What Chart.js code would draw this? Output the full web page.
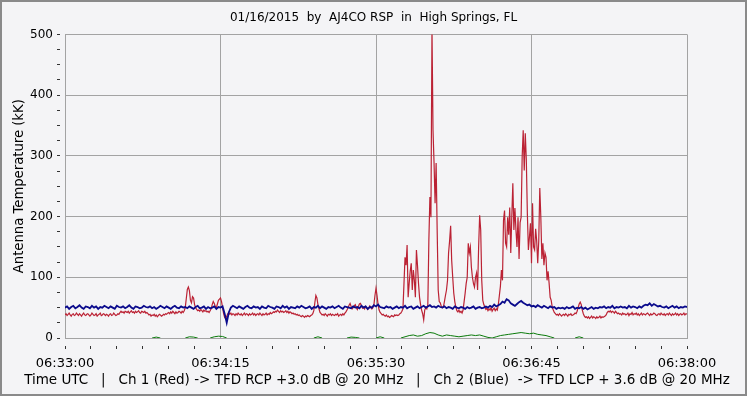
<!DOCTYPE html>
<html>
<head>
<meta charset="utf-8">
<script src="https://cdn.jsdelivr.net/npm/chart.js@4.4.1/dist/chart.umd.min.js"></script>
<style>
  html, body { margin: 0; padding: 0; background: #f4f4f6; }
  #wrap { width: 747px; height: 396px; }
</style>
</head>
<body>
<div id="wrap"><canvas id="grafico" width="747" height="396"></canvas></div>
<script>
// DADOS
const START = "06:33:00";
const RED_STEP = 0.5;   // segundos entre amostras
const BLUE_STEP = 1;
const GREEN_STEP = 2;
const N = null;

// Ch 1 (Red) - TFD RCP, kK
const red = [
  38,40,37,39,41,38,36,39,40,37,38,41,39,37,40,38,36,39,41,38,
  37,39,40,38,36,38,41,39,37,38,40,36,38,39,41,37,38,40,39,37,
  39,38,36,39,40,37,38,41,39,37,38,40,39,42,44,42,43,41,44,43,
  42,44,41,43,45,42,43,41,44,42,43,45,42,41,44,43,42,44,41,42,
  40,38,39,36,38,37,39,36,38,35,37,39,38,36,37,39,38,40,39,41,
  42,40,43,41,44,42,40,43,41,42,44,43,41,44,42,45,50,65,80,84,
  78,62,58,68,66,55,50,47,45,46,44,47,45,43,46,44,45,43,44,42,
  45,48,55,60,57,52,50,56,62,64,66,60,50,40,34,32,36,40,42,39,
  41,38,40,39,37,40,38,41,39,38,40,37,39,41,38,40,39,37,40,38,
  39,41,38,40,37,39,40,38,41,39,37,40,38,39,41,38,40,39,42,40,
  41,43,42,44,43,46,44,42,45,43,44,42,43,45,42,44,41,43,42,40,
  41,39,40,38,39,37,38,36,35,37,36,34,36,35,37,36,35,37,38,40,
  45,58,70,66,55,48,42,40,38,39,37,40,38,36,39,38,40,37,39,38,
  37,39,38,40,36,38,39,37,40,38,41,43,46,50,54,57,52,48,50,53,
  55,50,47,52,56,57,53,49,51,48,52,50,47,49,53,51,48,50,55,70,
  82,70,55,46,42,40,38,39,37,36,38,35,36,34,35,37,36,35,38,37,
  38,37,38,40,41,44,48,90,133,120,153,67,90,110,123,79,112,95,67,145,
  120,90,67,55,46,40,30,46,50,48,55,161,232,199,510,342,288,222,288,178,
  79,60,58,52,50,51,60,70,79,95,140,160,185,128,100,74,60,51,45,43,
  46,42,44,41,46,60,74,90,100,156,140,150,117,100,90,84,100,107,79,150,
  202,178,95,62,55,51,47,49,45,48,46,50,44,47,49,45,48,46,55,70,
  85,112,95,194,210,156,150,199,170,215,140,200,255,178,214,178,150,199,130,190,
  199,298,342,276,337,293,205,145,166,189,123,222,150,145,180,160,123,160,247,199,
  130,156,120,140,133,95,110,90,67,62,51,46,42,40,38,39,37,40,38,36,
  38,39,37,40,38,36,39,38,40,37,38,39,41,40,44,50,56,59,55,46,
  40,36,34,35,33,35,32,34,36,33,35,34,32,35,33,34,36,33,35,34,
  35,36,38,42,44,43,45,42,44,43,41,44,42,40,41,39,40,38,41,39,
  40,38,39,41,37,40,39,42,38,40,39,41,38,40,37,39,41,38,40,39,
  38,40,41,39,37,40,38,39,41,40,38,37,39,40,38,41,39,38,40,37,
  39,40,38,41,39,37,40,38,39,41,38,40,37,39,40,38,39,41,38,40,
  39
];

// Ch 2 (Blue) - TFD LCP, kK
const blue = [
  50,52,48,51,53,49,51,54,50,48,52,51,49,53,50,52,48,51,50,53,
  51,49,52,50,48,53,51,50,52,49,51,54,50,48,52,51,49,50,53,51,
  50,52,49,51,48,50,53,51,49,52,50,48,51,53,50,49,52,50,51,49,
  52,50,48,51,53,49,50,52,48,51,49,50,52,48,51,50,52,40,25,42,
  50,53,51,49,52,50,48,51,53,50,49,52,50,51,48,52,50,49,53,51,
  50,48,52,51,49,53,50,52,48,51,50,49,52,50,53,51,49,50,52,48,
  51,50,53,49,52,50,48,51,50,52,49,51,53,50,48,52,51,50,49,52,
  50,51,49,53,50,52,48,51,50,54,52,55,51,50,49,52,50,51,48,50,
  52,49,51,50,53,49,51,52,48,50,52,49,51,53,50,52,54,51,52,50,
  53,51,50,52,49,51,50,48,52,50,49,51,50,48,51,49,50,52,48,50,
  51,49,50,52,50,53,51,55,52,54,56,60,58,64,62,57,55,53,56,59,
  61,58,56,54,55,52,53,51,54,52,50,53,51,49,52,50,51,48,50,49,
  50,48,51,49,50,52,48,50,49,51,48,50,47,49,51,48,50,49,51,50,
  52,49,51,50,53,49,51,50,52,50,51,49,53,50,52,51,49,52,50,53,
  55,54,57,53,56,54,52,53,51,50,52,49,51,53,50,52,49,51,50,52,
  51
];

// verde (pequeno, só onde aparece acima do eixo)
const green = [
  N,N,N,N,N,N,N,N,N,N, N,N,N,N,N,N,N,N,N,N,
  N,0,1.5,0,N,N,N,N,N,0, 2,1.5,0,N,N,0,2,3,2.5,0,
  N,N,N,N,N,N,N,N,N,N, N,N,N,N,N,N,N,N,N,N,
  0,2,0,N,N,N,N,N,0,1.5, 1,0,N,N,N,0,2,0,N,N,
  N,0,2,4,5,3,4,7,9,8, 5,3,5,4,3,2,3,4,5,4,
  5,3,1,0,2,4,5,6,7,8, 9,8,7,8,6,5,4,2,0,N,
  N,N,N,0,2,0,N,N,N,N, N,N,N,N,N,N,N,N,N,N,
  N,N,N,N,N,N,N,N,N,N, N
];

const xMajor = 75;    // rótulos a cada 75 s
const xMinor = 12.5;
const yMajor = 100;
const yMinor = 25;

const titulo = "01/16/2015  by  AJ4CO RSP  in  High Springs, FL";
const rodape = "Time UTC   |   Ch 1 (Red) -> TFD RCP +3.0 dB @ 20 MHz   |   Ch 2 (Blue)  -> TFD LCP + 3.6 dB @ 20 MHz";
const tituloY = "Antenna Temperature (kK)";

function pontos(valores, passo) {
  return valores.map((v, i) => ({ x: i * passo, y: v }));
}

function horaLabel(seg) {
  const [h, m, s] = START.split(":").map(Number);
  let t = h * 3600 + m * 60 + s + Math.round(seg);
  const hh = String(Math.floor(t / 3600)).padStart(2, "0");
  const mm = String(Math.floor(t % 3600 / 60)).padStart(2, "0");
  const ss = String(t % 60).padStart(2, "0");
  return `${hh}:${mm}:${ss}`;
}

// fundo, moldura e linha de rodapé (o título do eixo x seria comprimido na largura da área)
const fundo = {
  id: "fundo",
  beforeDraw(chart) {
    const c = chart.ctx;
    c.save();
    c.fillStyle = "#f4f4f6";
    c.fillRect(0, 0, chart.width, chart.height);
    c.restore();
  },
  afterDraw(chart) {
    const c = chart.ctx;
    const area = chart.chartArea;
    c.save();
    c.fillStyle = "#000";
    c.font = "13.5px 'DejaVu Sans', sans-serif";
    c.textAlign = "center";
    c.textBaseline = "middle";
    c.fillText(rodape, (area.left + area.right) / 2 + 1, 380);
    c.strokeStyle = "#8a8a8a";
    c.lineWidth = 2;
    c.strokeRect(1, 1, chart.width - 2, chart.height - 2);
    c.restore();
  }
};

Chart.defaults.font.family = "'DejaVu Sans', sans-serif";
Chart.defaults.font.size = 12;
Chart.defaults.color = "#000";

const gridCor = "#a3a3a3";

new Chart(document.getElementById("grafico").getContext("2d"), {
  type: "line",
  data: {
    datasets: [
      { label: "Ch 2 (Blue)", data: pontos(blue, BLUE_STEP), borderColor: "#0a0a8c", borderWidth: 1.8, order: 0 },
      { label: "Ch 1 (Red)", data: pontos(red, RED_STEP), borderColor: "#bb2234", borderWidth: 1.2, order: 1 },
      { label: "Dif", data: pontos(green, GREEN_STEP), borderColor: "#0a7a0a", borderWidth: 1, order: 2, spanGaps: false }
    ]
  },
  options: {
    responsive: false,
    devicePixelRatio: 1,
    animation: false,
    layout: { padding: 0 },
    elements: { point: { radius: 0 }, line: { tension: 0 } },
    plugins: {
      legend: { display: false },
      tooltip: { enabled: false },
      title: {
        display: true, text: titulo, color: "#000",
        font: { size: 12, weight: "normal" },
        padding: { top: 11, bottom: 9 }
      }
    },
    scales: {
      x: {
        type: "linear", min: 0, max: 300,
        afterFit: s => { s.height = 58; },
        ticks: {
          stepSize: xMinor, autoSkip: false, maxRotation: 0, padding: 7,
          font: { size: 13 },
          callback: v => (v % xMajor === 0 ? horaLabel(v) : "")
        },
        grid: {
          color: c => (c.tick && c.tick.value % xMajor === 0 ? gridCor : "rgba(0,0,0,0)"),
          tickColor: "#333", tickLength: 11,
          tickBorderDash: [4, 100], tickBorderDashOffset: 97
        },
        border: { color: gridCor }
      },
      y: {
        min: 0, max: 500,
        afterFit: s => { s.width = 65; },
        ticks: {
          stepSize: yMinor, autoSkip: false, padding: 4,
          callback: v => (v % yMajor === 0 ? v : "")
        },
        grid: {
          color: c => (c.tick && c.tick.value % yMajor === 0 ? gridCor : "rgba(0,0,0,0)"),
          tickColor: "#333", tickLength: 8,
          tickBorderDash: [3, 100], tickBorderDashOffset: 0
        },
        border: { color: gridCor },
        title: { display: true, text: tituloY, font: { size: 13.2 }, padding: { top: 12, bottom: 0 } }
      },
      // margem direita (só espaço)
      margemDir: {
        position: "right", min: 0, max: 500,
        afterFit: s => { s.width = 60; },
        grid: { display: false, drawTicks: false },
        ticks: { display: false },
        border: { display: false }
      }
    }
  },
  plugins: [fundo]
});
</script>
</body>
</html>
